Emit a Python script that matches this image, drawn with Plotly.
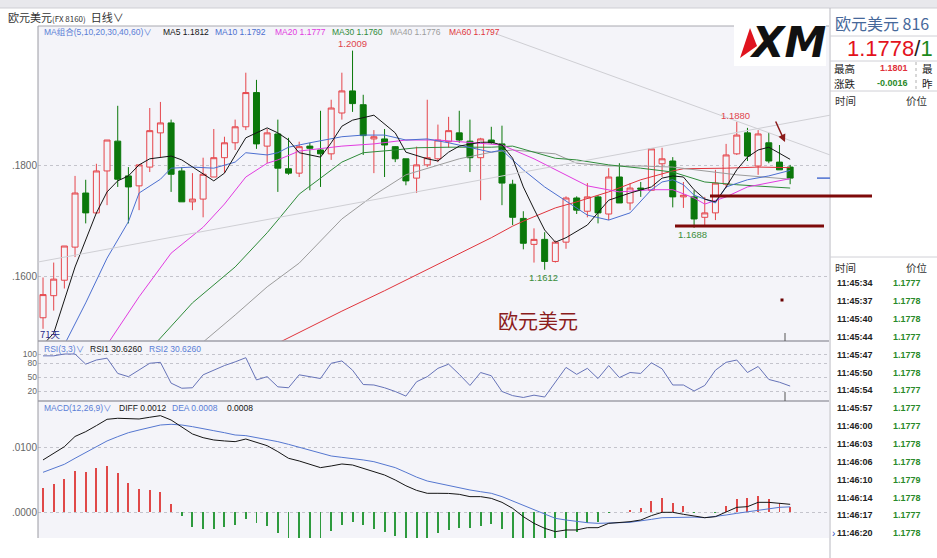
import plotly.graph_objects as go

# ---------------- data ----------------
opens = [1.1525,1.1565,1.1593,1.1653,1.1751,1.1715,1.1791,1.1845,1.1782,1.1764,
         1.1798,1.1860,1.1878,1.1791,1.1735,1.1740,1.1780,1.1815,1.1842,1.1871,
         1.1933,1.1836,1.1858,1.1795,1.1787,1.1836,1.1829,1.1822,1.1896,1.1936,
         1.1911,1.1849,1.1849,1.1835,1.1813,1.1778,1.1802,1.1813,1.1844,1.1860,
         1.1845,1.1815,1.1847,1.1840,1.1767,1.1705,1.1658,1.1667,1.1627,1.1662,
         1.1742,1.1718,1.1744,1.1713,1.1780,1.1733,1.1760,1.1756,1.1804,1.1809,
         1.1744,1.1744,1.1707,1.1715,1.1767,1.1822,1.1860,1.1800,1.1842,1.1807,1.1798]
highs = [1.1598,1.1625,1.1655,1.1782,1.1775,1.1804,1.1847,1.1909,1.1798,1.1802,
         1.1905,1.1916,1.1884,1.1798,1.1787,1.1815,1.1867,1.1853,1.1884,1.1969,
         1.1956,1.1867,1.1884,1.1851,1.1844,1.1842,1.1900,1.1920,1.1969,1.2009,
         1.1929,1.1865,1.1867,1.1836,1.1813,1.1835,1.1920,1.1875,1.1889,1.1900,
         1.1884,1.1851,1.1871,1.1873,1.1775,1.1718,1.1687,1.1680,1.1665,1.1745,
         1.1745,1.1769,1.1747,1.1796,1.1805,1.1769,1.1771,1.1831,1.1833,1.1816,
         1.1771,1.1756,1.1744,1.1793,1.1840,1.1880,1.1869,1.1865,1.1860,1.1838,1.1802]
lows = [1.1505,1.1538,1.1578,1.1635,1.1696,1.1713,1.1729,1.1762,1.1696,1.1720,
        1.1789,1.1816,1.1753,1.1735,1.1720,1.1707,1.1780,1.1787,1.1829,1.1865,
        1.1831,1.1805,1.1753,1.1784,1.1780,1.1756,1.1762,1.1811,1.1884,1.1898,
        1.1820,1.1787,1.1780,1.1807,1.1765,1.1751,1.1798,1.1807,1.1833,1.1842,
        1.1789,1.1738,1.1840,1.1729,1.1693,1.1649,1.1625,1.1612,1.1625,1.1650,
        1.1713,1.1707,1.1696,1.1702,1.1733,1.1720,1.1744,1.1756,1.1780,1.1725,
        1.1724,1.1688,1.1693,1.1702,1.1760,1.1820,1.1809,1.1784,1.1805,1.1793,1.1767]
closes = [1.1567,1.1595,1.1655,1.1751,1.1715,1.1791,1.1847,1.1776,1.1762,1.1802,
          1.1864,1.1878,1.1785,1.1735,1.1740,1.1785,1.1815,1.1842,1.1871,1.1933,
          1.1840,1.1860,1.1796,1.1787,1.1835,1.1832,1.1822,1.1905,1.1936,1.1913,
          1.1855,1.1853,1.1838,1.1813,1.1773,1.1802,1.1815,1.1847,1.1864,1.1847,
          1.1815,1.1849,1.1842,1.1769,1.1707,1.1660,1.1667,1.1627,1.1662,1.1742,
          1.1720,1.1744,1.1715,1.1780,1.1733,1.1760,1.1758,1.1831,1.1813,1.1744,
          1.1747,1.1704,1.1715,1.1769,1.1820,1.1856,1.1818,1.1858,1.1809,1.1793,1.1778]

ma5_idx = [0,1,3,5,6,7,8,9,10,12,13,15,16,17,19,21,22,23,24,26,27,28,29,31,33,34,36,37,38,39,
           41,42,43,44,45,46,47,48,49,51,53,55,57,58,59,60,61,62,63,64,65,66,67,68,70]
ma5_val = [1.1476,1.1497,1.1617,1.1715,1.1753,1.1773,1.1782,1.1802,1.1813,1.1818,
           1.1811,1.1786,1.1773,1.1787,1.1851,1.1869,1.1860,1.1847,1.1824,1.1816,
           1.1842,1.1872,1.1883,1.1892,1.1860,1.1825,1.1813,1.1809,1.1825,1.1836,
           1.1843,1.1843,1.1838,1.1814,1.1762,1.1722,1.1684,1.1662,1.1670,1.1693,
           1.1738,1.1751,1.1762,1.1778,1.1782,1.1780,1.1757,1.1740,1.1735,1.1762,
           1.1793,1.1816,1.1829,1.1834,1.1812]
ma10_idx = [2,4,6,8,9,11,12,14,16,18,19,21,22,23,25,28,30,32,34,36,38,40,42,43,45,47,51,53,55,57,
            58,59,60,61,63,64,66,68,70]
ma10_val = [1.1476,1.1552,1.1633,1.1699,1.1751,1.1776,1.1796,1.1798,1.1796,1.1807,
            1.1824,1.1820,1.1824,1.1834,1.1842,1.1853,1.1856,1.1856,1.1847,1.1849,
            1.1842,1.1834,1.1825,1.1829,1.1793,1.1762,1.1711,1.1702,1.1715,1.1757,
            1.1771,1.1775,1.1766,1.1747,1.1733,1.1762,1.1775,1.1782,1.1792]
ma20_idx = [6,9,12,15,17,19,21,22,24,28,31,34,37,40,43,46,48,49,51,54,57,59,61,62,64,66,68,70]
ma20_val = [1.1476,1.1563,1.1642,1.1689,1.1731,1.1780,1.1805,1.1811,1.1827,1.1836,
            1.1840,1.1847,1.1847,1.1842,1.1838,1.1813,1.1793,1.1784,1.1764,1.1753,
            1.1757,1.1757,1.1742,1.1731,1.1744,1.1762,1.1769,1.1777]
ma30_idx = [10,14,18,21,22,24,28,30,33,35,38,42,44,48,50,53,56,59,62,65,70]
ma30_val = [1.1467,1.1552,1.1617,1.1679,1.1702,1.1749,1.1807,1.1824,1.1829,1.1833,
            1.1834,1.1834,1.1836,1.1814,1.1811,1.1802,1.1796,1.1789,1.1771,1.1766,1.1760]
ma40_idx = [15,18,21,22,24,28,31,34,37,39,42,44,48,50,53,56,59,62,65,70]
ma40_val = [1.1481,1.1530,1.1581,1.1595,1.1624,1.1704,1.1747,1.1784,1.1802,1.1813,
            1.1825,1.1829,1.1822,1.1805,1.1800,1.1800,1.1798,1.1791,1.1784,1.1776]
ma60_idx = [22,28,32,35,38,42,44,45,48,50,53,56,59,60,64,67,70]
ma60_val = [1.1479,1.1537,1.1574,1.1603,1.1632,1.1670,1.1691,1.1700,1.1724,1.1735,
            1.1753,1.1775,1.1791,1.1795,1.1796,1.1798,1.1797]

rsi = [96,96,100,100,78,87,91,58,51,65,80,82,37,26,27,55,65,75,83,92,
       44,51,29,27,55,51,47,80,85,65,34,33,27,19,9,40,51,69,78,56,
       32,60,53,19,10,6,11,7,40,71,56,69,47,75,49,60,58,81,68,33,
       33,20,32,65,82,87,60,73,45,39,30.626]

diff = [0.00813,0.00917,0.0102,0.0118,0.01255,0.01349,0.01448,0.01464,0.01453,0.01453,
        0.0148,0.01505,0.01437,0.01333,0.01219,0.01161,0.01125,0.0111,0.01099,0.0114,
        0.01089,0.01036,0.00943,0.00839,0.00797,0.00745,0.00693,0.00719,0.0075,0.00734,
        0.00682,0.0064,0.00578,0.005,0.0041,0.00338,0.00292,0.00292,0.0029,0.00276,
        0.0024,0.0024,0.00213,0.00151,0.00057,-0.00073,-0.00177,-0.00255,-0.00307,-0.00281,
        -0.00281,-0.00245,-0.00245,-0.00177,-0.00167,-0.00151,-0.00125,-0.00057,-0.00005,-0.00005,
        -0.00036,-0.00057,-0.00089,-0.00073,0.00005,0.00073,0.00083,0.00151,0.00151,0.00136,0.0012]
dea = [0.0062,0.00682,0.00745,0.00839,0.00932,0.0102,0.0111,0.01177,0.01239,0.01281,
       0.01323,0.01359,0.0137,0.01359,0.01333,0.01307,0.0127,0.01239,0.01203,0.01193,
       0.01161,0.0114,0.01099,0.01057,0.01011,0.00958,0.00917,0.00875,0.00854,0.00839,
       0.00813,0.00786,0.00745,0.00693,0.0062,0.00545,0.00484,0.00448,0.00411,0.0038,
       0.00344,0.00317,0.00292,0.0024,0.00172,0.00099,0.00031,-0.00036,-0.00099,-0.00125,
       -0.00151,-0.00167,-0.00177,-0.00177,-0.00167,-0.00161,-0.00141,-0.00115,-0.00089,-0.00084,
       -0.0008,-0.0008,-0.00089,-0.00073,-0.00047,-0.00021,0.00005,0.00031,0.00057,0.00073,0.0008]
macd_hist = [0.0037,0.00433,0.00516,0.0064,0.0063,0.00682,0.00719,0.00604,0.00448,0.00354,
             0.00344,0.00307,0.00125,-0.00057,-0.0023,-0.00266,-0.00266,-0.0023,-0.00203,-0.00109,
             -0.00177,-0.00214,-0.00333,-0.0043,-0.0043,-0.0043,-0.0045,-0.00297,-0.00203,-0.00161,
             -0.00203,-0.00266,-0.00307,-0.0037,-0.0042,-0.0042,-0.0042,-0.00333,-0.00281,-0.00245,
             -0.00245,-0.00219,-0.00193,-0.00266,-0.0042,-0.0045,-0.0045,-0.0045,-0.0042,-0.0042,
             -0.00307,-0.00177,-0.00151,-0.00005,0.0,0.0003,0.00068,0.00172,0.00213,0.00135,
             0.00094,-0.0001,0.0,-0.0001,0.00099,0.00203,0.00213,0.00255,0.00203,0.00135,0.0008]

price_tick_vals = [1.16, 1.18]
price_tick_text = [".1600", ".1800"]
rsi_tick_vals = [20, 50, 80, 100]
rsi_tick_text = ["20", "50", "80", "100"]
macd_tick_vals = [0.0, 0.01]
macd_tick_text = [".0000", ".0100"]

tick_times = ["11:45:34", "11:45:37", "11:45:40", "11:45:44", "11:45:47", "11:45:50", "11:45:54",
              "11:45:57", "11:46:00", "11:46:03", "11:46:06", "11:46:10", "11:46:14", "11:46:17", "11:46:20"]
tick_prices = ["1.1777", "1.1778", "1.1778", "1.1777", "1.1778", "1.1778", "1.1777", "1.1777",
               "1.1777", "1.1778", "1.1778", "1.1779", "1.1778", "1.1777", "1.1778"]

# ---------------- styling ----------------
W, H = 937, 558
def px(x): return x / W
def py(y): return 1 - y / H

BG = "#F4F4F9"
RED = "#E5454B"
GREEN = "#0B780B"
FONT = "Liberation Sans, Noto Sans CJK SC, sans-serif"
CJK = "Noto Sans CJK SC, sans-serif"
XR = [-0.47, 73.64]
HS = 8.5  # header text size

fig = go.Figure()
xs = list(range(len(closes)))

fig.add_trace(go.Candlestick(
    x=xs, open=opens, high=highs, low=lows, close=closes,
    increasing=dict(line=dict(color=RED, width=1), fillcolor=BG),
    decreasing=dict(line=dict(color=GREEN, width=1), fillcolor=GREEN),
    whiskerwidth=0, hoverinfo="skip", xaxis="x", yaxis="y"))

for ix, vals, col in [(ma60_idx, ma60_val, "#E0343C"), (ma40_idx, ma40_val, "#9C9C9C"),
                      (ma30_idx, ma30_val, "#2F8B3A"), (ma20_idx, ma20_val, "#E23BE0"),
                      (ma10_idx, ma10_val, "#4C6FD0"), (ma5_idx, ma5_val, "#151515")]:
    fig.add_trace(go.Scatter(x=ix, y=vals, mode="lines", line=dict(color=col, width=1),
                             hoverinfo="skip", xaxis="x", yaxis="y"))

fig.add_trace(go.Scatter(x=xs, y=rsi, mode="lines", line=dict(color="#6673B8", width=1),
                         hoverinfo="skip", xaxis="x2", yaxis="y2"))

fig.add_trace(go.Bar(x=xs, y=macd_hist, width=0.09,
                     marker=dict(color=["#E04848" if v >= 0 else "#2E9A3E" for v in macd_hist],
                                 line=dict(width=0)),
                     hoverinfo="skip", xaxis="x3", yaxis="y3"))
fig.add_trace(go.Scatter(x=xs, y=dea, mode="lines", line=dict(color="#5577D0", width=1),
                         hoverinfo="skip", xaxis="x3", yaxis="y3"))
fig.add_trace(go.Scatter(x=xs, y=diff, mode="lines", line=dict(color="#151515", width=1),
                         hoverinfo="skip", xaxis="x3", yaxis="y3"))

axis_x = dict(domain=[px(38), px(829)], range=XR, visible=False, fixedrange=True)
tickfont = dict(family=FONT, size=10, color="#666")
common_y = dict(showgrid=True, gridcolor="#C4C4CC", griddash="dot", gridwidth=1,
                zeroline=False, ticks="", showline=False, tickfont=tickfont, fixedrange=True)

fig.update_layout(
    width=W, height=H, autosize=False,
    margin=dict(l=0, r=0, t=0, b=0),
    paper_bgcolor="white", plot_bgcolor=BG,
    showlegend=False, hovermode=False, bargap=0,
    boxgap=0.2,
    xaxis=dict(**axis_x, anchor="y", rangeslider=dict(visible=False)),
    xaxis2=dict(**axis_x, anchor="y2"),
    xaxis3=dict(**axis_x, anchor="y3"),
    yaxis=dict(**common_y, domain=[py(341), py(26)], range=[1.14829, 1.20536], anchor="x",
               tickvals=price_tick_vals, ticktext=price_tick_text),
    yaxis2=dict(**common_y, domain=[py(401), py(341)], range=[-1.6, 128.1], anchor="x2",
                tickvals=rsi_tick_vals, ticktext=rsi_tick_text),
    yaxis3=dict(**common_y, domain=[py(538), py(401)], range=[-0.0040625, 0.01734], anchor="x3",
                tickvals=macd_tick_vals, ticktext=macd_tick_text),
)
fig.update_yaxes(tickfont=dict(size=8.5), selector=dict(anchor="x2"))

shapes = []
def pline(x0, y0, x1, y1, color, width=1, dash=None):
    d = dict(type="line", xref="paper", yref="paper", x0=px(x0), y0=py(y0), x1=px(x1), y1=py(y1),
             line=dict(color=color, width=width), layer="above")
    if dash:
        d["line"]["dash"] = dash
    shapes.append(d)

# window chrome
shapes.append(dict(type="rect", xref="paper", yref="paper", x0=0, x1=1, y0=py(8), y1=1,
                   fillcolor="#E8E8EC", line=dict(width=0), layer="below"))
pline(0, 8, 937, 8, "#CFCFD4")
pline(38, 26, 829, 26, "#A8A8B0")
pline(38, 341, 829, 341, "#A0A0A8", 1.5)
pline(38, 401, 829, 401, "#A0A0A8", 1.5)
pline(38, 26, 38, 538, "#9A9AA2")
pline(830, 8, 830, 558, "#B8B8C0")
# right panel separators
pline(830, 36, 937, 36, "#D0D0D6")
pline(830, 61, 937, 61, "#D0D0D6")
pline(830, 91, 937, 91, "#D0D0D6")
pline(830, 257, 937, 257, "#D0D0D6")
pline(916, 62, 916, 90, "#B0B0B0", 1, "dot")
# light trend lines (in price units)
shapes.append(dict(type="line", xref="paper", yref="y", x0=px(38), x1=px(830), y0=1.1626, y1=1.1892,
                   line=dict(color="#CFCFD4", width=1), layer="above"))
shapes.append(dict(type="line", xref="paper", yref="y", x0=px(495), x1=px(830), y0=1.2040, y1=1.1820,
                   line=dict(color="#CFCFD4", width=1), layer="above"))
# hand-drawn support lines
pline(710, 196, 872, 196, "#7E0A0A", 3)
pline(675, 226, 824, 226, "#7E0A0A", 3)
# current price marker
shapes.append(dict(type="line", xref="paper", yref="y", x0=px(817), x1=px(830), y0=closes[-1], y1=closes[-1],
                   line=dict(color="#4C6FD0", width=1.5), layer="above"))
# cursor ticks and small marks
pline(785, 333, 785, 341, "#555")
pline(785, 392, 785, 401, "#555")
shapes.append(dict(type="rect", xref="paper", yref="paper", x0=px(780.5), x1=px(783.5), y0=py(301.5), y1=py(298.5),
                   fillcolor="#6A0000", line=dict(width=0), layer="above"))
# XM logo
shapes.append(dict(type="rect", xref="paper", yref="paper", x0=px(734), x1=px(826), y0=py(66), y1=py(12),
                   fillcolor="white", line=dict(width=0), layer="above"))
shapes.append(dict(type="path", xref="paper", yref="paper",
                   path=f"M {px(740)} {py(58)} L {px(750)} {py(28)} L {px(757)} {py(46)} Z",
                   fillcolor="#E0141E", line=dict(width=0), layer="above"))
fig.update_layout(shapes=shapes)

ann = []
def text(x, y, s, size=9, color="#222", anchor="left", family=FONT):
    ann.append(dict(x=px(x), y=py(y), xref="paper", yref="paper", text=s, showarrow=False,
                    xanchor=anchor, yanchor="middle", font=dict(family=family, size=size, color=color)))

# header rows
text(6, 17, "欧元美元<span style='font-size:8px'>(FX 8160)</span>  日线∨", 11, "#333", family=CJK)
text(42, 32, "MA组合(5,10,20,30,40,60)∨", HS, "#5A7ED6")
text(161, 32, "MA5 1.1812", HS, "#151515")
text(213, 32, "MA10 1.1792", HS, "#4C6FD0")
text(273, 32, "MA20 1.1777", HS, "#E23BE0")
text(330, 32, "MA30 1.1760", HS, "#2F8B3A")
text(388, 32, "MA40 1.1776", HS, "#9C9C9C")
text(447, 32, "MA60 1.1797", HS, "#E0343C")
text(42, 349, "RSI(3,3)∨", HS, "#5A7ED6")
text(88, 349, "RSI1 30.6260", HS, "#151515")
text(147, 349, "RSI2 30.6260", HS, "#5A7ED6")
text(42, 408, "MACD(12,26,9)∨", HS, "#5A7ED6")
text(117, 408, "DIFF 0.0012", HS, "#151515")
text(170, 408, "DEA 0.0008", HS, "#5A7ED6")
text(225, 408, "0.0008", HS, "#151515")

# price labels on chart
text(352, 44, "1.2009", 9.5, "#E0444C", "center")
text(543, 277, "1.1612", 9.5, "#3B8E3B", "center")
text(692, 235, "1.1688", 9.5, "#3B8E3B", "center")
text(735, 115, "1.1880", 9.5, "#E0444C", "center")
text(538, 320, "欧元美元", 20, "#8B1C1C", "center", CJK)
text(38, 334, "71天", 9.5, "#2A2A8A", "left", CJK)
text(787, 42, "<b><i>XM</i></b>", 42, "#111", "center", "DejaVu Sans, sans-serif")

# right panel
text(833, 23, "欧元美元 816", 16, "#46689A", "left", CJK)
text(845, 48, "<span style='color:#E3121C'>1.1778</span><span style='color:#222'>/</span>"
              "<span style='color:#1C8A1C'>1</span>", 22, "#E3121C", "left", FONT)
text(832, 68, "最高", 10.5, "#222", "left", CJK)
text(894, 68, "<b>1.1801</b>", 9, "#E0303A", "center")
text(920, 68, "最", 10.5, "#222", "left", CJK)
text(832, 83, "涨跌", 10.5, "#222", "left", CJK)
text(892, 83, "<b>-0.0016</b>", 9, "#2A8A2A", "center")
text(920, 83, "昨", 10.5, "#222", "left", CJK)
text(833, 100, "时间", 10.5, "#333", "left", CJK)
text(904, 100, "价位", 10.5, "#333", "left", CJK)
text(833, 267, "时间", 10.5, "#333", "left", CJK)
text(904, 267, "价位", 10.5, "#333", "left", CJK)
for k, (t, p) in enumerate(zip(tick_times, tick_prices)):
    yy = 283.3 + k * 17.86
    text(835, yy, f"<b>{t}</b>", 9, "#222", "left")
    text(923, yy, f"<b>{p}</b>", 9, "#2A8A2A", "right")
text(830, 533.3, "›", 10, "#3050C0", "left")

# arrow
ann.append(dict(x=px(785), y=py(142), xref="paper", yref="paper", ax=-10, ay=-22, text="",
                showarrow=True, arrowhead=2, arrowsize=1, arrowwidth=1.5, arrowcolor="#8B1A1A"))

fig.update_layout(annotations=ann)
fig.write_html("out.html", config={"displayModeBar": False},
               post_script="document.body.style.margin='0';document.body.style.padding='0';")
